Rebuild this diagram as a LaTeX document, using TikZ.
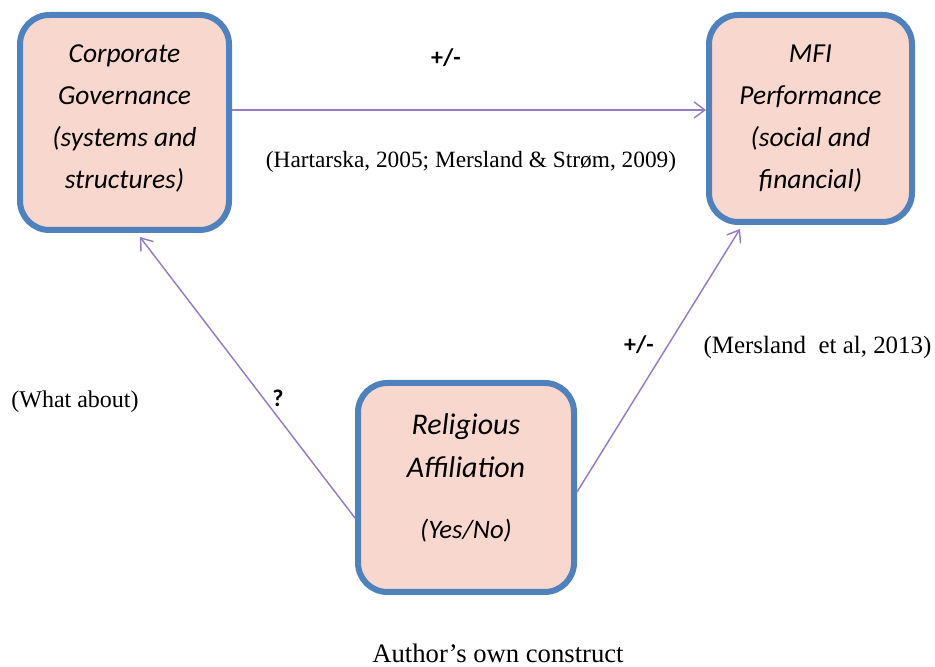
\documentclass[tikz,border=0pt]{standalone}
\usepackage{fontspec}
\setmainfont{Liberation Serif}
\newfontfamily\boxfont{Carlito}
\usetikzlibrary{arrows.meta}
\definecolor{boxfill}{RGB}{248,216,206}
\definecolor{boxline}{RGB}{79,129,189}
\definecolor{linkcol}{RGB}{150,125,195}

\begin{document}
\begin{tikzpicture}[
    x=0.75pt, y=0.75pt,
    box/.style={draw=boxline, line width=4.5pt, fill=boxfill, rounded corners=22pt,
      align=center, font=\boxfont\itshape\fontsize{20.6}{31.5}\selectfont},
    link/.style={draw=linkcol, line width=1.1pt, -{Straight Barb[length=8pt, width=12pt]}},
    sign/.style={font=\boxfont\bfseries\fontsize{18}{20}\selectfont},
    cite/.style={font=\fontsize{18.7}{20}\selectfont}
]
  \useasboundingbox (0,0) rectangle (935,667);

  % --- BOXES ---
  \node[box, minimum width=156.75pt, minimum height=161.25pt, text depth=9pt] (cg) at (124.5,544.5)
    {Corporate\\Governance\\(systems and\\structures)};
  \node[box, minimum width=152.25pt, minimum height=155.25pt] (mfi) at (810.5,548.5)
    {MFI\\Performance\\(social and\\financial)};
  \node[box, minimum width=162pt, minimum height=156.75pt, text depth=17pt,
        font=\boxfont\itshape\fontsize{22.5}{32.25}\selectfont] (ra) at (466,179.5)
    {Religious\\Affiliation\\[14pt]{\fontsize{20}{20}\selectfont(Yes/No)}};

  % --- LABELS ---
  \node[sign] (s1) at (446,609) {+/-};
  \node[cite, font=\fontsize{17.5}{20}\selectfont] (c1) at (471,505)
    {(Hartarska, 2005; Mersland \& Strøm, 2009)};
  \node[sign] (s2) at (639,322) {+/-};
  \node[cite] (c2) at (817.5,319) {(Mersland\hspace{0.25em} et al, 2013)};
  \node[cite, font=\fontsize{18}{20}\selectfont] (c3) at (75,265) {(What about)};
  \node[sign] (q) at (278,269) {?};
  \node[cite, font=\fontsize{20}{22}\selectfont] (cap) at (498,14) {Author’s own construct};

  % --- ARROWS ---
  \draw[link] ([yshift=9.4pt]cg.east) -- ([yshift=6.4pt]mfi.west);
  \draw[link] ([yshift=-22.9pt]ra.west) -- ([xshift=11.6pt, yshift=-3pt]cg.south);
  \draw[link] ([yshift=-3.4pt]ra.east) -- ([xshift=-52.9pt, yshift=-3pt]mfi.south);
\end{tikzpicture}
\end{document}
